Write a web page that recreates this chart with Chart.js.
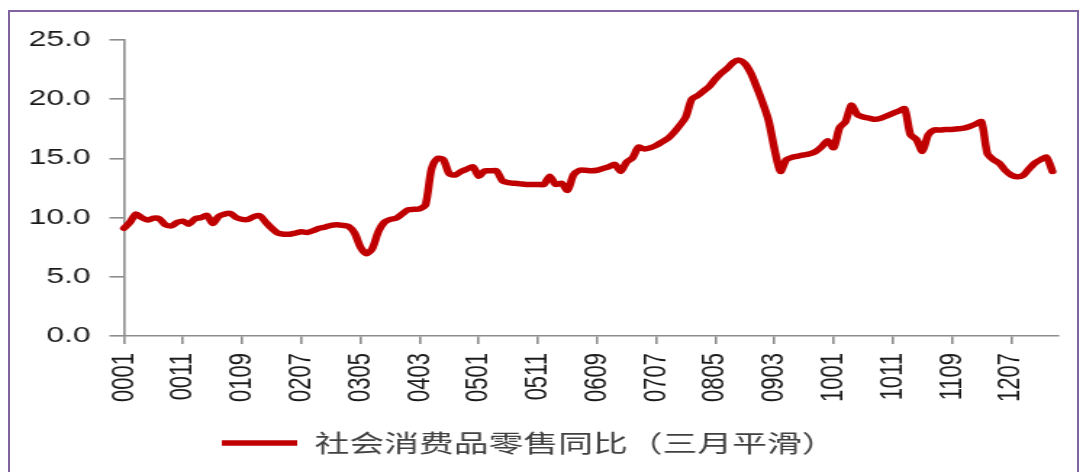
<!DOCTYPE html>
<html>
<head>
<meta charset="utf-8">
<script src="https://cdn.jsdelivr.net/npm/chart.js@4"></script>
<style>
  html, body { margin: 0; padding: 0; background: #fff; }
  body { width: 1083px; height: 472px; overflow: hidden; position: relative; }
  /* the original picture is stretched sideways, so the chart is drawn narrow and scaled */
  #stretch { position: absolute; left: 0; top: 0; width: 747px; height: 472px; transform: scale(1.4498, 1); transform-origin: 0 0; }
  #frame { position: absolute; left: 8px; top: 10px; width: 1067px; height: 470px; border: 2px solid #8064A2; pointer-events: none; }
</style>
</head>
<body>
<div id="stretch"><canvas id="retailChart"></canvas></div>
<div id="frame"></div>
<script>
const seriesName = '社会消费品零售同比（三月平滑）';
const startYear = 2000;
const monthCount = 159;  // 0001 .. 1303 on the axis

const tickLabels = ['0001', '0011', '0109', '0207', '0305', '0403', '0501', '0511',
                    '0609', '0707', '0805', '0903', '1001', '1011', '1109', '1207'];

// monthly values, one row per year
const retailYoY = [
    9.1, 9.6, 10.3, 10.0, 9.8, 9.95, 9.9, 9.4, 9.3, 9.6, 9.7, 9.45,           // 2000
    9.9, 10.0, 10.2, 9.5, 10.1, 10.3, 10.35, 10.0, 9.85, 9.85, 10.1, 10.15,   // 2001
    9.6, 9.1, 8.7, 8.6, 8.6, 8.7, 8.8, 8.75, 8.9, 9.1, 9.2, 9.35,             // 2002
    9.4, 9.35, 9.25, 8.7, 7.5, 6.95, 7.4, 8.8, 9.6, 9.85, 9.95, 10.3,         // 2003
    10.65, 10.7, 10.75, 11.1, 14.1, 15.0, 14.9, 13.7, 13.6, 13.9, 14.1, 14.3, // 2004
    13.5, 13.95, 13.95, 13.95, 13.1, 12.95, 12.9, 12.85, 12.8, 12.8, 12.8, 12.8, // 2005
    13.5, 12.8, 12.9, 12.3, 13.6, 14.0, 14.0, 13.95, 14.0, 14.15, 14.3, 14.5, // 2006
    13.9, 14.7, 15.05, 15.95, 15.8, 15.9, 16.1, 16.4, 16.7, 17.2, 17.8, 18.5, // 2007
    20.0, 20.3, 20.7, 21.1, 21.7, 22.2, 22.6, 23.1, 23.3, 23.0, 22.2, 21.0,   // 2008
    19.7, 18.2, 15.8, 13.9, 14.9, 15.1, 15.2, 15.3, 15.4, 15.6, 16.0, 16.5,   // 2009
    15.9, 17.6, 18.1, 19.5, 18.7, 18.5, 18.4, 18.3, 18.4, 18.6, 18.8, 19.0,   // 2010
    19.2, 17.0, 16.6, 15.6, 17.0, 17.4, 17.4, 17.45, 17.45, 17.5, 17.55, 17.7, // 2011
    17.9, 18.1, 15.4, 14.9, 14.6, 14.0, 13.6, 13.45, 13.55, 14.1, 14.6, 14.9, // 2012
    15.1, 13.9                                                                // 2013
];

const months = [];
for (let i = 0; i < monthCount; i++) {
    const yy = (startYear + Math.floor(i / 12)) % 100;
    const mm = i % 12 + 1;
    months.push(String(yy).padStart(2, '0') + String(mm).padStart(2, '0'));
}

const axisGray = '#8c8c8c';
const numFont = { family: '"Liberation Sans", Arial, sans-serif', size: 22 };

const ctx = document.getElementById('retailChart').getContext('2d');
const chart = new Chart(ctx, {
    type: 'line',
    data: {
        labels: months,
        datasets: [{
            label: seriesName,
            data: retailYoY,
            borderColor: '#c00000',
            backgroundColor: '#c00000',
            borderWidth: 5.5,
            borderCapStyle: 'round',
            borderJoinStyle: 'round',
            pointRadius: 0,
            tension: 0.25,
            fill: false,
            clip: false
        }]
    },
    options: {
        responsive: true,
        maintainAspectRatio: false,
        animation: false,
        layout: { padding: { left: 0, right: 17, top: 40, bottom: 7 } },
        plugins: {
            legend: {
                position: 'bottom',
                labels: {
                    usePointStyle: true,
                    pointStyle: 'line',
                    pointStyleWidth: 52,
                    padding: 20,
                    color: '#404040',
                    font: { family: '"Noto Sans CJK SC", sans-serif', size: 24 }
                }
            },
            tooltip: { enabled: false }
        },
        scales: {
            x: {
                offset: false,
                border: { display: true, color: axisGray, width: 1.6 },
                grid: {
                    drawOnChartArea: false,
                    drawTicks: true,
                    tickLength: 8,
                    lineWidth: 1.6,
                    color: c => (c.tick && c.tick.label) ? axisGray : 'rgba(0,0,0,0)'
                },
                ticks: {
                    autoSkip: false,
                    minRotation: 90,
                    maxRotation: 90,
                    padding: 9,
                    color: '#1a1a1a',
                    font: numFont,
                    callback: function (val) {
                        const lab = this.getLabelForValue(val);
                        return tickLabels.includes(lab) ? lab : null;
                    }
                }
            },
            y: {
                min: 0,
                max: 25,
                afterFit: s => { s.width = 85.5; },
                border: { display: true, color: axisGray, width: 1.6 },
                grid: { drawOnChartArea: false, drawTicks: true, tickLength: 10, lineWidth: 1.6, color: axisGray },
                ticks: {
                    stepSize: 5,
                    padding: 13,
                    color: '#1a1a1a',
                    font: numFont,
                    callback: v => v.toFixed(1)
                }
            }
        }
    }
});
</script>
</body>
</html>
